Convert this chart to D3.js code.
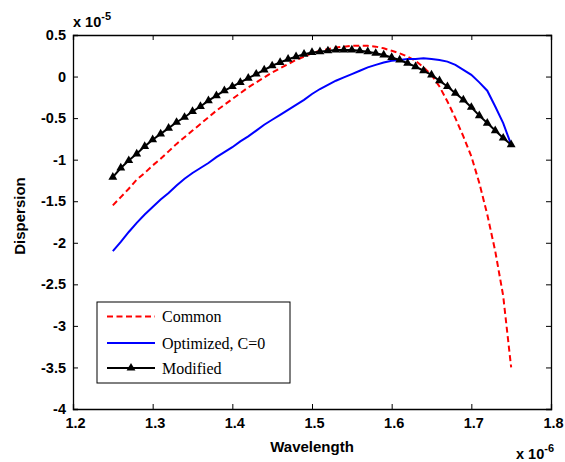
<!DOCTYPE html>
<html><head><meta charset="utf-8">
<script src="https://cdn.jsdelivr.net/npm/d3@7"></script>
<style>body{margin:0;background:#fff}svg{display:block}</style>
</head><body>
<script>
const wavelength = [1.25,1.26,1.27,1.28,1.29,1.30,1.31,1.32,1.33,1.34,1.35,1.36,1.37,1.38,1.39,1.40,1.41,1.42,1.43,1.44,1.45,1.46,1.47,1.48,1.49,1.50,1.51,1.52,1.53,1.54,1.55,1.56,1.57,1.58,1.59,1.60,1.61,1.62,1.63,1.64,1.65,1.66,1.67,1.68,1.69,1.70,1.71,1.72,1.73,1.74,1.75];
const common = [-1.55,-1.45,-1.35,-1.24,-1.16,-1.07,-0.99,-0.90,-0.81,-0.73,-0.65,-0.57,-0.49,-0.41,-0.34,-0.27,-0.20,-0.13,-0.07,-0.01,0.05,0.10,0.15,0.20,0.24,0.28,0.31,0.33,0.35,0.36,0.37,0.37,0.37,0.36,0.34,0.31,0.28,0.24,0.19,0.11,0.02,-0.12,-0.30,-0.50,-0.72,-0.96,-1.28,-1.66,-2.10,-2.64,-3.50];
const optimized = [-2.10,-1.99,-1.87,-1.76,-1.66,-1.57,-1.48,-1.40,-1.31,-1.23,-1.16,-1.10,-1.04,-0.97,-0.91,-0.85,-0.78,-0.72,-0.65,-0.58,-0.52,-0.46,-0.40,-0.34,-0.28,-0.21,-0.15,-0.10,-0.05,-0.01,0.03,0.07,0.11,0.14,0.17,0.19,0.20,0.21,0.21,0.22,0.21,0.20,0.18,0.14,0.08,0.02,-0.07,-0.17,-0.36,-0.56,-0.82];
const modified = [-1.21,-1.10,-1.01,-0.93,-0.84,-0.76,-0.69,-0.62,-0.55,-0.49,-0.42,-0.36,-0.29,-0.23,-0.17,-0.12,-0.07,-0.02,0.03,0.08,0.13,0.17,0.21,0.24,0.27,0.29,0.30,0.31,0.32,0.32,0.32,0.31,0.30,0.28,0.26,0.23,0.20,0.16,0.12,0.07,0.02,-0.05,-0.12,-0.20,-0.28,-0.37,-0.47,-0.56,-0.65,-0.74,-0.82];
const xTicks = [1.2,1.3,1.4,1.5,1.6,1.7,1.8];
const yTicks = [0.5,0,-0.5,-1,-1.5,-2,-2.5,-3,-3.5,-4];
const seriesNames = ["Common","Optimized, C=0","Modified"];

const W=565,H=462;
const L=73,R=551,T=35,B=409;
const svg=d3.select("body").append("svg").attr("width",W).attr("height",H);
const x=d3.scaleLinear().domain([1.2,1.8]).range([L,R]);
const y=d3.scaleLinear().domain([-4,0.5]).range([B,T]);
const font="'Liberation Sans', Arial, Helvetica, sans-serif";

// axes
const ax=d3.axisBottom(x).tickValues(xTicks).tickSize(-5).tickPadding(9).tickFormat(d3.format(".1f"));
const gx=svg.append("g").attr("transform",`translate(0,${B})`).call(ax);
const axT=d3.axisTop(x).tickValues(xTicks).tickSize(-5).tickFormat("");
svg.append("g").attr("transform",`translate(0,${T})`).call(axT);
const fmtY=d=>d===0?"0":(Number.isInteger(d)?String(d):d.toFixed(1));
const ay=d3.axisLeft(y).tickValues(yTicks).tickSize(-5).tickPadding(7).tickFormat(fmtY);
const gy=svg.append("g").attr("transform",`translate(${L},0)`).call(ay);
const ayR=d3.axisRight(y).tickValues(yTicks).tickSize(-5).tickFormat("");
svg.append("g").attr("transform",`translate(${R},0)`).call(ayR);
svg.selectAll(".domain").attr("stroke","#000").attr("stroke-width",1.3);
svg.selectAll(".tick line").attr("stroke","#000");
svg.selectAll(".tick text").attr("font-family",font).attr("font-weight","bold").attr("font-size",14.5).attr("fill","#000");
gx.selectAll(".tick text").attr("dy","0.71em").attr("dx",2);

// lines
const mk=vals=>wavelength.map((w,i)=>[w,vals[i]]);
const line=d3.line().x(d=>x(d[0])).y(d=>y(d[1]));
svg.append("path").datum(mk(common)).attr("d",line).attr("fill","none").attr("stroke","#ff0000").attr("stroke-width",2).attr("stroke-dasharray","6,3.5");
svg.append("path").datum(mk(optimized)).attr("d",line).attr("fill","none").attr("stroke","#0000ff").attr("stroke-width",2);
svg.append("path").datum(mk(modified)).attr("d",line).attr("fill","none").attr("stroke","#000").attr("stroke-width",2);
const tri=d3.symbol().type(d3.symbolTriangle).size(34);
svg.append("g").selectAll("path").data(mk(modified)).join("path")
  .attr("transform",d=>`translate(${x(d[0])},${y(d[1])})`).attr("d",tri).attr("fill","#000");

// axis labels
svg.append("text").attr("x",(L+R)/2).attr("y",452).attr("text-anchor","middle")
  .attr("font-family",font).attr("font-weight","bold").attr("font-size",15).text("Wavelength");
svg.append("text").attr("transform","translate(25,216) rotate(-90)").attr("text-anchor","middle")
  .attr("font-family",font).attr("font-weight","bold").attr("font-size",15).text("Dispersion");

// exponents
const e1=svg.append("text").attr("x",73).attr("y",27).attr("font-family",font).attr("font-weight","bold").attr("font-size",14.5);
e1.append("tspan").text("x 10");
e1.append("tspan").attr("dy",-7).attr("font-size",11).text("-5");
const e2=svg.append("text").attr("x",516).attr("y",459).attr("font-family",font).attr("font-weight","bold").attr("font-size",14.5);
e2.append("tspan").text("x 10");
e2.append("tspan").attr("dy",-7).attr("font-size",11).text("-6");

// legend
const lg=svg.append("g");
lg.append("rect").attr("x",97).attr("y",302).attr("width",193).attr("height",81).attr("fill","#fff").attr("stroke","#000").attr("stroke-width",1);
const rows=[316.5,343,368];
const lx1=107,lx2=155;
lg.append("line").attr("x1",lx1).attr("x2",lx2).attr("y1",rows[0]).attr("y2",rows[0]).attr("stroke","#ff0000").attr("stroke-width",2).attr("stroke-dasharray","6,3.5");
lg.append("line").attr("x1",lx1).attr("x2",lx2).attr("y1",rows[1]).attr("y2",rows[1]).attr("stroke","#0000ff").attr("stroke-width",2);
lg.append("line").attr("x1",lx1).attr("x2",lx2).attr("y1",rows[2]).attr("y2",rows[2]).attr("stroke","#000").attr("stroke-width",2);
lg.append("path").attr("transform",`translate(${(lx1+lx2)/2},${rows[2]})`).attr("d",tri).attr("fill","#000");
seriesNames.forEach((n,i)=>{
  lg.append("text").attr("x",162).attr("y",rows[i]).attr("dy","0.35em")
    .attr("font-family","'Liberation Serif','Times New Roman',serif").attr("font-size",16).text(n);
});
</script>
</body></html>
